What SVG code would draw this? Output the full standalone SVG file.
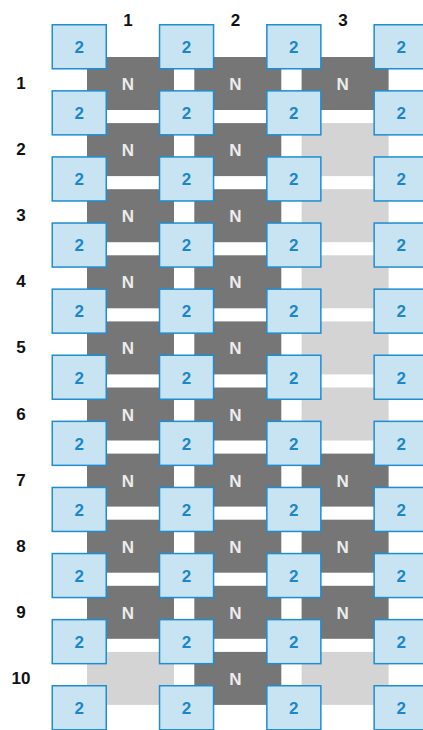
<svg xmlns="http://www.w3.org/2000/svg" width="423" height="730" viewBox="0 0 423 730">
<style>
.dark{fill:#767676}
.light{fill:#d4d4d4}
.n{font-family:"Liberation Sans",Arial,sans-serif;font-weight:bold;font-size:17px;fill:#ececec;text-anchor:middle}
.box{fill:#c8e4f2;stroke:#1f8dd0;stroke-width:1.5}
.bt{font-family:"Liberation Sans",Arial,sans-serif;font-weight:bold;font-size:17px;fill:#1b87c9;text-anchor:middle}
.lbl{font-family:"Liberation Sans",Arial,sans-serif;font-weight:bold;font-size:17px;fill:#111;text-anchor:middle}
</style>
<defs>
<g id="bx"><rect class="box" x="0.75" y="0.75" width="54" height="44"/><text class="bt" x="27.75" y="29">2</text></g>
</defs>
<g id="cells">
<g id="cell-c1-r1" transform="translate(87,57)"><rect class="dark" width="87" height="53"/><text class="n" x="41" y="33">N</text></g>
<g id="cell-c1-r2" transform="translate(87,123.1)"><rect class="dark" width="87" height="53"/><text class="n" x="41" y="33">N</text></g>
<g id="cell-c1-r3" transform="translate(87,189.2)"><rect class="dark" width="87" height="53"/><text class="n" x="41" y="33">N</text></g>
<g id="cell-c1-r4" transform="translate(87,255.3)"><rect class="dark" width="87" height="53"/><text class="n" x="41" y="33">N</text></g>
<g id="cell-c1-r5" transform="translate(87,321.4)"><rect class="dark" width="87" height="53"/><text class="n" x="41" y="33">N</text></g>
<g id="cell-c1-r6" transform="translate(87,387.5)"><rect class="dark" width="87" height="53"/><text class="n" x="41" y="33">N</text></g>
<g id="cell-c1-r7" transform="translate(87,453.6)"><rect class="dark" width="87" height="53"/><text class="n" x="41" y="33">N</text></g>
<g id="cell-c1-r8" transform="translate(87,519.7)"><rect class="dark" width="87" height="53"/><text class="n" x="41" y="33">N</text></g>
<g id="cell-c1-r9" transform="translate(87,585.8)"><rect class="dark" width="87" height="53"/><text class="n" x="41" y="33">N</text></g>
<g id="cell-c1-r10" transform="translate(87,651.9)"><rect class="light" width="87" height="53"/></g>

<g id="cell-c2-r1" transform="translate(194.3,57)"><rect class="dark" width="87" height="53"/><text class="n" x="41" y="33">N</text></g>
<g id="cell-c2-r2" transform="translate(194.3,123.1)"><rect class="dark" width="87" height="53"/><text class="n" x="41" y="33">N</text></g>
<g id="cell-c2-r3" transform="translate(194.3,189.2)"><rect class="dark" width="87" height="53"/><text class="n" x="41" y="33">N</text></g>
<g id="cell-c2-r4" transform="translate(194.3,255.3)"><rect class="dark" width="87" height="53"/><text class="n" x="41" y="33">N</text></g>
<g id="cell-c2-r5" transform="translate(194.3,321.4)"><rect class="dark" width="87" height="53"/><text class="n" x="41" y="33">N</text></g>
<g id="cell-c2-r6" transform="translate(194.3,387.5)"><rect class="dark" width="87" height="53"/><text class="n" x="41" y="33">N</text></g>
<g id="cell-c2-r7" transform="translate(194.3,453.6)"><rect class="dark" width="87" height="53"/><text class="n" x="41" y="33">N</text></g>
<g id="cell-c2-r8" transform="translate(194.3,519.7)"><rect class="dark" width="87" height="53"/><text class="n" x="41" y="33">N</text></g>
<g id="cell-c2-r9" transform="translate(194.3,585.8)"><rect class="dark" width="87" height="53"/><text class="n" x="41" y="33">N</text></g>
<g id="cell-c2-r10" transform="translate(194.3,651.9)"><rect class="dark" width="87" height="53"/><text class="n" x="41" y="33">N</text></g>

<g id="cell-c3-r1" transform="translate(301.6,57)"><rect class="dark" width="87" height="53"/><text class="n" x="41" y="33">N</text></g>
<g id="cell-c3-r2" transform="translate(301.6,123.1)"><rect class="light" width="87" height="53"/></g>
<g id="cell-c3-r3" transform="translate(301.6,189.2)"><rect class="light" width="87" height="53"/></g>
<g id="cell-c3-r4" transform="translate(301.6,255.3)"><rect class="light" width="87" height="53"/></g>
<g id="cell-c3-r5" transform="translate(301.6,321.4)"><rect class="light" width="87" height="53"/></g>
<g id="cell-c3-r6" transform="translate(301.6,387.5)"><rect class="light" width="87" height="53"/></g>
<g id="cell-c3-r7" transform="translate(301.6,453.6)"><rect class="dark" width="87" height="53"/><text class="n" x="41" y="33">N</text></g>
<g id="cell-c3-r8" transform="translate(301.6,519.7)"><rect class="dark" width="87" height="53"/><text class="n" x="41" y="33">N</text></g>
<g id="cell-c3-r9" transform="translate(301.6,585.8)"><rect class="dark" width="87" height="53"/><text class="n" x="41" y="33">N</text></g>
<g id="cell-c3-r10" transform="translate(301.6,651.9)"><rect class="light" width="87" height="53"/></g>
</g>
<g id="connectors"/>
<g id="boxes">
<g id="box-r0-c0" transform="translate(51.5,24)"><use href="#bx"/></g>
<g id="box-r0-c1" transform="translate(158.8,24)"><use href="#bx"/></g>
<g id="box-r0-c2" transform="translate(266.1,24)"><use href="#bx"/></g>
<g id="box-r0-c3" transform="translate(373.4,24)"><use href="#bx"/></g>
<g id="box-r1-c0" transform="translate(51.5,90.1)"><use href="#bx"/></g>
<g id="box-r1-c1" transform="translate(158.8,90.1)"><use href="#bx"/></g>
<g id="box-r1-c2" transform="translate(266.1,90.1)"><use href="#bx"/></g>
<g id="box-r1-c3" transform="translate(373.4,90.1)"><use href="#bx"/></g>
<g id="box-r2-c0" transform="translate(51.5,156.2)"><use href="#bx"/></g>
<g id="box-r2-c1" transform="translate(158.8,156.2)"><use href="#bx"/></g>
<g id="box-r2-c2" transform="translate(266.1,156.2)"><use href="#bx"/></g>
<g id="box-r2-c3" transform="translate(373.4,156.2)"><use href="#bx"/></g>
<g id="box-r3-c0" transform="translate(51.5,222.3)"><use href="#bx"/></g>
<g id="box-r3-c1" transform="translate(158.8,222.3)"><use href="#bx"/></g>
<g id="box-r3-c2" transform="translate(266.1,222.3)"><use href="#bx"/></g>
<g id="box-r3-c3" transform="translate(373.4,222.3)"><use href="#bx"/></g>
<g id="box-r4-c0" transform="translate(51.5,288.4)"><use href="#bx"/></g>
<g id="box-r4-c1" transform="translate(158.8,288.4)"><use href="#bx"/></g>
<g id="box-r4-c2" transform="translate(266.1,288.4)"><use href="#bx"/></g>
<g id="box-r4-c3" transform="translate(373.4,288.4)"><use href="#bx"/></g>
<g id="box-r5-c0" transform="translate(51.5,354.5)"><use href="#bx"/></g>
<g id="box-r5-c1" transform="translate(158.8,354.5)"><use href="#bx"/></g>
<g id="box-r5-c2" transform="translate(266.1,354.5)"><use href="#bx"/></g>
<g id="box-r5-c3" transform="translate(373.4,354.5)"><use href="#bx"/></g>
<g id="box-r6-c0" transform="translate(51.5,420.6)"><use href="#bx"/></g>
<g id="box-r6-c1" transform="translate(158.8,420.6)"><use href="#bx"/></g>
<g id="box-r6-c2" transform="translate(266.1,420.6)"><use href="#bx"/></g>
<g id="box-r6-c3" transform="translate(373.4,420.6)"><use href="#bx"/></g>
<g id="box-r7-c0" transform="translate(51.5,486.7)"><use href="#bx"/></g>
<g id="box-r7-c1" transform="translate(158.8,486.7)"><use href="#bx"/></g>
<g id="box-r7-c2" transform="translate(266.1,486.7)"><use href="#bx"/></g>
<g id="box-r7-c3" transform="translate(373.4,486.7)"><use href="#bx"/></g>
<g id="box-r8-c0" transform="translate(51.5,552.8)"><use href="#bx"/></g>
<g id="box-r8-c1" transform="translate(158.8,552.8)"><use href="#bx"/></g>
<g id="box-r8-c2" transform="translate(266.1,552.8)"><use href="#bx"/></g>
<g id="box-r8-c3" transform="translate(373.4,552.8)"><use href="#bx"/></g>
<g id="box-r9-c0" transform="translate(51.5,618.9)"><use href="#bx"/></g>
<g id="box-r9-c1" transform="translate(158.8,618.9)"><use href="#bx"/></g>
<g id="box-r9-c2" transform="translate(266.1,618.9)"><use href="#bx"/></g>
<g id="box-r9-c3" transform="translate(373.4,618.9)"><use href="#bx"/></g>
<g id="box-r10-c0" transform="translate(51.5,685)"><use href="#bx"/></g>
<g id="box-r10-c1" transform="translate(158.8,685)"><use href="#bx"/></g>
<g id="box-r10-c2" transform="translate(266.1,685)"><use href="#bx"/></g>
<g id="box-r10-c3" transform="translate(373.4,685)"><use href="#bx"/></g>
</g>
<g id="labels">
<text class="lbl" x="128" y="26">1</text>
<text class="lbl" x="235.5" y="26">2</text>
<text class="lbl" x="343" y="26">3</text>
<text class="lbl" x="21" y="89">1</text>
<text class="lbl" x="21" y="155">2</text>
<text class="lbl" x="21" y="221">3</text>
<text class="lbl" x="21" y="287">4</text>
<text class="lbl" x="21" y="353">5</text>
<text class="lbl" x="21" y="419.5">6</text>
<text class="lbl" x="21" y="485.5">7</text>
<text class="lbl" x="21" y="551.5">8</text>
<text class="lbl" x="21" y="617.5">9</text>
<text class="lbl" x="21" y="684">10</text>
</g>
</svg>
